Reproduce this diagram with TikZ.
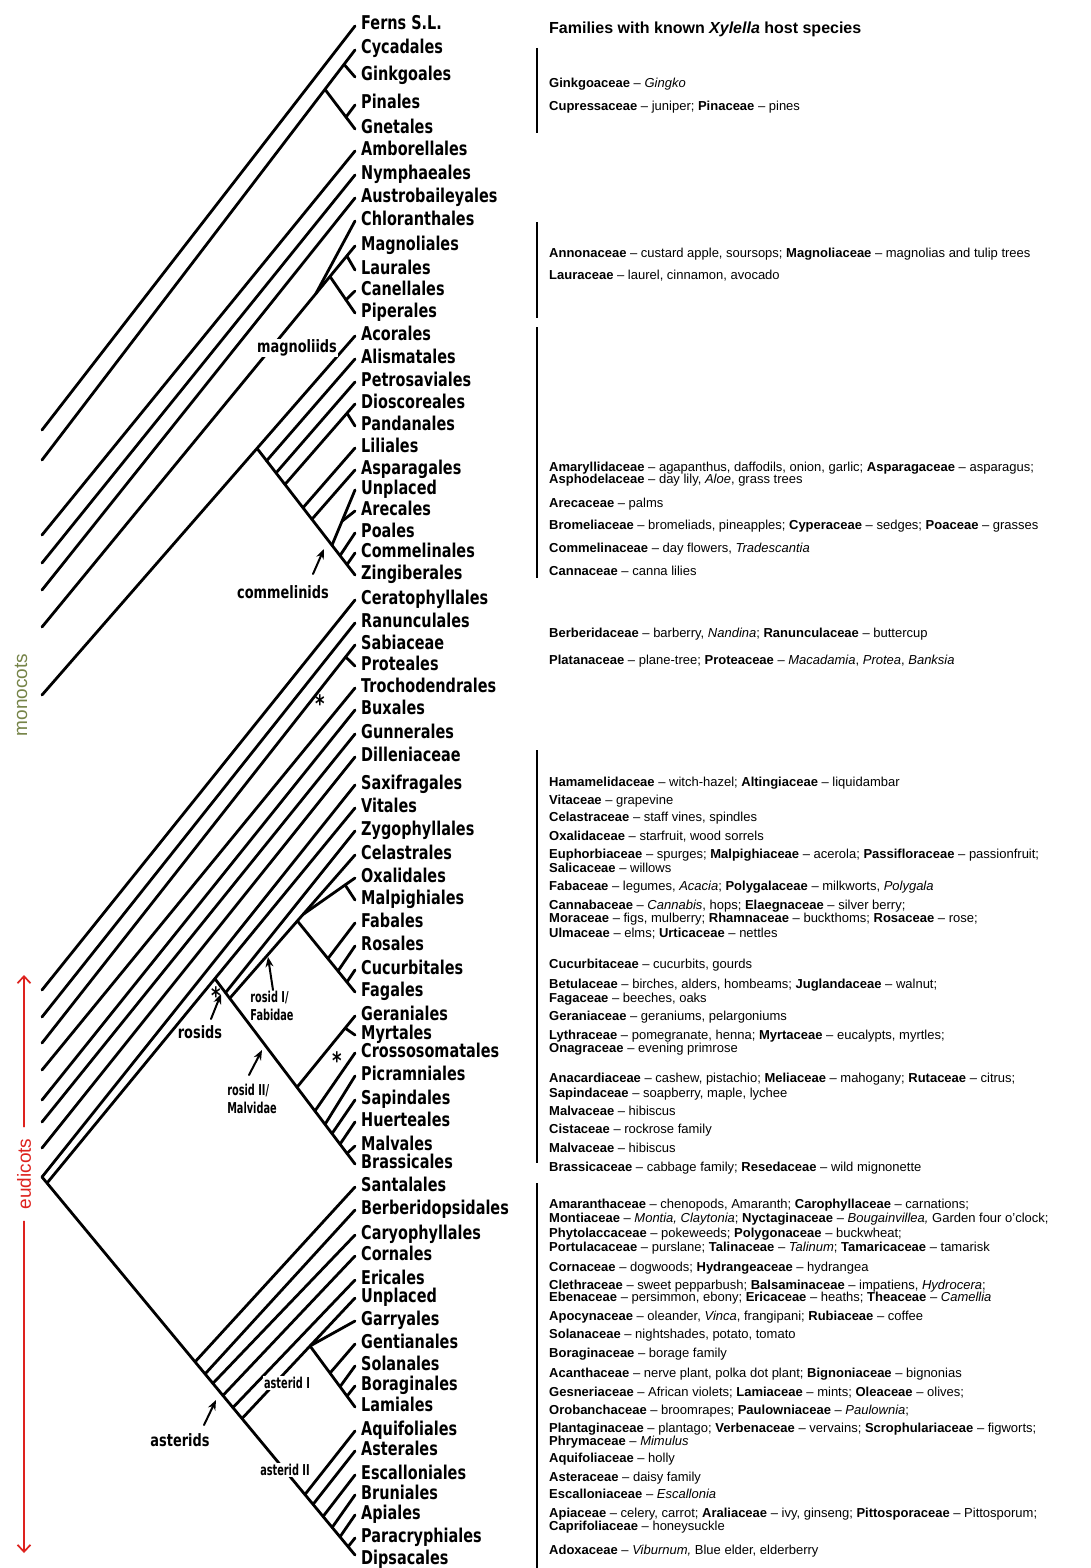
\documentclass[tikz,border=0pt]{standalone}
\usepackage{fontspec}
\setmainfont{Liberation Sans}
\newfontfamily\taxfont{DejaVu Sans}[FakeStretch=0.76]
\newfontfamily\subfont{DejaVu Sans}[FakeStretch=0.65]
\usetikzlibrary{calc,arrows.meta}
\newcommand{\famb}[1]{\textbf{#1}}
\definecolor{monogreen}{RGB}{118,132,72}
\definecolor{eured}{RGB}{222,34,30}

\begin{document}
\begin{tikzpicture}[x=1pt,y=-1pt,line cap=round,line join=round,
  branch/.style={line width=2.8pt},
  taxon/.style={anchor=base west,inner sep=0pt,font=\taxfont\bfseries\fontsize{19}{19}\selectfont},
  host/.style={anchor=base west,inner sep=0pt,font=\fontsize{13}{13}\selectfont},
  clade/.style={inner sep=1pt,font=\taxfont\bfseries\fontsize{17}{17}\selectfont},
  subclade/.style={inner sep=1pt,align=left,font=\subfont\bfseries\fontsize{15}{18}\selectfont},
  starmark/.style={inner sep=0pt,font=\taxfont\bfseries\fontsize{24}{24}\selectfont},
  pointer/.style={line width=2pt,-{Stealth[length=10pt,width=8pt]}},
  redarrow/.style={eured,line width=1.7pt,-{Straight Barb[length=7pt,width=13pt]}}]

\fill[white] (0,0) rectangle (1090,1568);
\useasboundingbox (0,0) rectangle (1090,1568);

% order labels and tips
\foreach \c/\n/\t in {23/ferns/Ferns S.L., 47/cycad/Cycadales, 74/ginkgo/Ginkgoales,
  102/pinal/Pinales, 126/gnet/Gnetales, 148/ambor/Amborellales, 172/nymph/Nymphaeales,
  195/austro/Austrobaileyales, 218/chlor/Chloranthales, 243/magnol/Magnoliales,
  267/laur/Laurales, 288/canel/Canellales, 310/piper/Piperales, 333/acor/Acorales,
  356/alism/Alismatales, 379/petros/Petrosaviales, 401/diosc/Dioscoreales,
  423/pandan/Pandanales, 445/lilia/Liliales, 467/aspar/Asparagales, 487/unpm/Unplaced,
  508/arec/Arecales, 530/poal/Poales, 550/commel/Commelinales, 572/zingib/Zingiberales,
  597/cerat/Ceratophyllales, 620/ranunc/Ranunculales, 642/sabia/Sabiaceae,
  663/proteal/Proteales, 685/trocho/Trochodendrales, 707/buxal/Buxales,
  731/gunner/Gunnerales, 754/dillen/Dilleniaceae, 782/saxif/Saxifragales,
  805/vital/Vitales, 828/zygo/Zygophyllales, 852/celast/Celastrales,
  875/oxalid/Oxalidales, 897/malpig/Malpighiales, 920/fabal/Fabales, 943/rosal/Rosales,
  967/cucurb/Cucurbitales, 989/fagal/Fagales, 1013/geran/Geraniales, 1032/myrt/Myrtales,
  1050/crosso/Crossosomatales, 1073/picram/Picramniales, 1097/sapind/Sapindales,
  1119/huert/Huerteales, 1143/malval/Malvales, 1161/brassic/Brassicales,
  1184/santal/Santalales, 1207/berber/Berberidopsidales, 1232/caryo/Caryophyllales,
  1253/cornal/Cornales, 1277/erical/Ericales, 1295/unpa/Unplaced, 1318/garry/Garryales,
  1341/gentian/Gentianales, 1363/solan/Solanales, 1383/boragin/Boraginales,
  1404/lamial/Lamiales, 1428/aquif/Aquifoliales, 1448/asteral/Asterales,
  1472/escall/Escalloniales, 1492/brunial/Bruniales, 1512/apial/Apiales,
  1535/paracr/Paracryphiales, 1557/dipsac/Dipsacales}{
  \node[taxon] (\n) at (361,\c+7) {\t};
  \coordinate (\n-t) at (355,\c+3);
}
\coordinate (dipsac-t) at (355,1555);

% gymnosperms
\coordinate (ferns-e) at (42,430);
\coordinate (gym-e) at (42,460);
\draw[branch] (ferns-t) -- (ferns-e);
\draw[branch] (cycad-t) -- (gym-e);
\coordinate (gk) at ($(cycad-t)!0.035!(gym-e)$);
\coordinate (pg) at ($(cycad-t)!0.096!(gym-e)$);
\coordinate (pf) at ($(pg)!0.7!(gnet-t)$);
\draw[branch] (gk) -- (ginkgo-t);
\draw[branch] (pg) -- (gnet-t);
\draw[branch] (pf) -- (pinal-t);

% basal angiosperms
\foreach \n/\y in {ambor/535,nymph/563,austro/590}{
  \coordinate (\n-e) at (42,\y);
  \draw[branch] (\n-t) -- (\n-e);
}

% magnoliids
\coordinate (mag-e) at (42,627);
\draw[branch] (magnol-t) -- (mag-e);
\coordinate (cj) at ($(magnol-t)!0.125!(mag-e)$);
\coordinate (ml) at ($(magnol-t)!0.026!(mag-e)$);
\coordinate (mp) at ($(magnol-t)!0.08!(mag-e)$);
\coordinate (cf) at ($(mp)!0.64!(piper-t)$);
\draw[branch] (chlor-t) -- (cj);
\draw[branch] (ml) -- (laur-t);
\draw[branch] (mp) -- (piper-t);
\draw[branch] (cf) -- (canel-t);

% monocots
\coordinate (mono-e) at (42,695);
\draw[branch] (acor-t) -- (mono-e);
\coordinate (mn) at ($(acor-t)!0.313!(mono-e)$);
\draw[branch] (mn) -- (zingib-t);
\foreach \n/\f in {alism/0.098,petros/0.194,diosc/0.285,lilia/0.469,aspar/0.560,
  unpm/0.765,poal/0.847,commel/0.918}{
  \coordinate (\n-b) at ($(mn)!\f!(zingib-t)$);
  \draw[branch] (\n-b) -- (\n-t);
}
\coordinate (pdf) at ($(diosc-b)!0.886!(diosc-t)$);
\coordinate (arf) at ($(unpm-b)!0.435!(unpm-t)$);
\draw[branch] (pdf) -- (pandan-t);
\draw[branch] (arf) -- (arec-t);

% eudicot grade
\foreach \n/\y in {cerat/990,ranunc/1017,sabia/1043,trocho/1070,buxal/1100,
  gunner/1122,dillen/1148}{
  \coordinate (\n-e) at (42,\y);
  \draw[branch] (\n-t) -- (\n-e);
}
\coordinate (prf) at ($(sabia-t)!0.03!(sabia-e)$);
\draw[branch] (prf) -- (proteal-t);
\coordinate (root) at (42,1177);
\draw[branch] (saxif-t) -- (root);
\draw[branch] (root) -- (dipsac-t);
\coordinate (vital-e) at ($(root)!0.016!(dipsac-t)$);
\draw[branch] (vital-t) -- (vital-e);

% rosids
\coordinate (R) at ($(vital-t)!0.455!(vital-e)$);
\draw[branch] (R) -- (brassic-t);
\coordinate (zygo-b) at ($(R)!0.076!(brassic-t)$);
\coordinate (fb) at ($(R)!0.106!(brassic-t)$);
\draw[branch] (zygo-t) -- (zygo-b);
\draw[branch] (celast-t) -- (fb);
\coordinate (F) at ($(celast-t)!0.46!(fb)$);
\coordinate (oj) at ($(celast-t)!0.415!(fb)$);
\draw[branch] (oxalid-t) -- (oj);
\coordinate (mf) at ($(oxalid-t)!0.19!(oj)$);
\draw[branch] (mf) -- (malpig-t);
\draw[branch] (F) -- (fagal-t);
\foreach \n/\f in {fabal/0.53,rosal/0.705,cucurb/0.86}{
  \coordinate (\n-b) at ($(F)!\f!(fagal-t)$);
  \draw[branch] (\n-b) -- (\n-t);
}
\coordinate (M) at ($(R)!0.586!(brassic-t)$);
\draw[branch] (M) -- (geran-t);
\coordinate (myf) at ($(M)!0.83!(geran-t)$);
\draw[branch] (myf) -- (myrt-t);
\foreach \n/\f in {crosso/0.714,picram/0.786,sapind/0.836,huert/0.893,malval/0.943}{
  \coordinate (\n-b) at ($(R)!\f!(brassic-t)$);
  \draw[branch] (\n-b) -- (\n-t);
}

% asterids
\foreach \n/\f in {santal/0.489,berber/0.521,caryo/0.546,cornal/0.578,erical/0.610,
  unpa/0.639,aquif/0.840,asteral/0.866,escall/0.898,brunial/0.927,apial/0.952,paracr/0.978}{
  \coordinate (\n-b) at ($(root)!\f!(dipsac-t)$);
  \draw[branch] (\n-b) -- (\n-t);
}
\coordinate (a1) at ($(unpa-b)!0.602!(unpa-t)$);
\draw[branch] (a1) -- (garry-t);
\draw[branch] (a1) -- (lamial-t);
\foreach \n/\f in {gentian/0.444,solan/0.667,boragin/0.822}{
  \coordinate (\n-b) at ($(a1)!\f!(lamial-t)$);
  \draw[branch] (\n-b) -- (\n-t);
}

% clade names
\node[clade,fill=white] (magnoliids) at (297,348) {magnoliids};
\node[clade] (commelinids) at (283,592) {commelinids};
\node[clade] (rosids) at (200,1032) {rosids};
\node[clade] (asterids) at (180,1440) {asterids};
\node[subclade] (fabidae) at (272,1006) {rosid I/\\Fabidae};
\node[subclade] (malvidae) at (252,1099) {rosid II/\\Malvidae};
\node[subclade,fill=white] (asteridI) at (287,1383) {asterid I};
\node[subclade,fill=white] (asteridII) at (285,1470) {asterid II};
\node[starmark] (star1) at (320,704) {*};
\node[starmark] (star2) at (216,996) {*};
\node[starmark] (star3) at (337,1061) {*};

\coordinate (cm-a) at (313,574); \coordinate (cm-b) at (324,549);
\coordinate (ro-a) at (211,1019); \coordinate (ro-b) at (221,994);
\coordinate (fa-a) at (273,990); \coordinate (fa-b) at (268,957);
\coordinate (mv-a) at (249,1075); \coordinate (mv-b) at (262,1050);
\coordinate (as-a) at (204,1425); \coordinate (as-b) at (216,1400);
\draw[pointer] (cm-a) -- (cm-b);
\draw[pointer] (ro-a) -- (ro-b);
\draw[pointer] (fa-a) -- (fa-b);
\draw[pointer] (mv-a) -- (mv-b);
\draw[pointer] (as-a) -- (as-b);

% groups at the left
\node[rotate=90,text=monogreen,font=\fontsize{19}{19}\selectfont] (monocots) at (21,695) {monocots};
\node[rotate=90,text=eured,inner sep=0pt,outer sep=12pt,font=\fontsize{19}{19}\selectfont] (eudicots) at (24,1174) {eudicots};
\coordinate (eu-top) at (24,975);
\coordinate (eu-bot) at (24,1553);
\draw[redarrow] (eudicots.east) -- (eu-top);
\draw[redarrow] (eudicots.west) -- (eu-bot);

% host families
\node[anchor=base west,inner sep=0pt,font=\bfseries\fontsize{16}{16}\selectfont] (title) at (549,34)
  {Families with known \textit{Xylella} host species};
\foreach \y/\t in {
  83/{\famb{Ginkgoaceae} -- \textit{Gingko}},
  106/{\famb{Cupressaceae} -- juniper; \famb{Pinaceae} -- pines},
  253/{\famb{Annonaceae} -- custard apple, soursops; \famb{Magnoliaceae} -- magnolias and tulip trees},
  275/{\famb{Lauraceae} -- laurel, cinnamon, avocado},
  467/{\famb{Amaryllidaceae} -- agapanthus, daffodils, onion, garlic; \famb{Asparagaceae} -- asparagus;},
  479/{\famb{Asphodelaceae} -- day lily, \textit{Aloe}, grass trees},
  503/{\famb{Arecaceae} -- palms},
  525/{\famb{Bromeliaceae} -- bromeliads, pineapples; \famb{Cyperaceae} -- sedges; \famb{Poaceae} -- grasses},
  548/{\famb{Commelinaceae} -- day flowers, \textit{Tradescantia}},
  571/{\famb{Cannaceae} -- canna lilies},
  633/{\famb{Berberidaceae} -- barberry, \textit{Nandina}; \famb{Ranunculaceae} -- buttercup},
  660/{\famb{Platanaceae} -- plane-tree; \famb{Proteaceae} -- \textit{Macadamia}, \textit{Protea}, \textit{Banksia}},
  782/{\famb{Hamamelidaceae} -- witch-hazel; \famb{Altingiaceae} -- liquidambar},
  800/{\famb{Vitaceae} -- grapevine},
  817/{\famb{Celastraceae} -- staff vines, spindles},
  836/{\famb{Oxalidaceae} -- starfruit, wood sorrels},
  854/{\famb{Euphorbiaceae} -- spurges; \famb{Malpighiaceae} -- acerola; \famb{Passifloraceae} -- passionfruit;},
  868/{\famb{Salicaceae} -- willows},
  886/{\famb{Fabaceae} -- legumes, \textit{Acacia}; \famb{Polygalaceae} -- milkworts, \textit{Polygala}},
  905/{\famb{Cannabaceae} -- \textit{Cannabis}, hops; \famb{Elaegnaceae} -- silver berry;},
  918/{\famb{Moraceae} -- figs, mulberry; \famb{Rhamnaceae} -- buckthoms; \famb{Rosaceae} -- rose;},
  933/{\famb{Ulmaceae} -- elms; \famb{Urticaceae} -- nettles},
  964/{\famb{Cucurbitaceae} -- cucurbits, gourds},
  984/{\famb{Betulaceae} -- birches, alders, hombeams; \famb{Juglandaceae} -- walnut;},
  998/{\famb{Fagaceae} -- beeches, oaks},
  1016/{\famb{Geraniaceae} -- geraniums, pelargoniums},
  1035/{\famb{Lythraceae} -- pomegranate, henna; \famb{Myrtaceae} -- eucalypts, myrtles;},
  1048/{\famb{Onagraceae} -- evening primrose},
  1078/{\famb{Anacardiaceae} -- cashew, pistachio; \famb{Meliaceae} -- mahogany; \famb{Rutaceae} -- citrus;},
  1093/{\famb{Sapindaceae} -- soapberry, maple, lychee},
  1111/{\famb{Malvaceae} -- hibiscus},
  1129/{\famb{Cistaceae} -- rockrose family},
  1148/{\famb{Malvaceae} -- hibiscus},
  1167/{\famb{Brassicaceae} -- cabbage family; \famb{Resedaceae} -- wild mignonette},
  1204/{\famb{Amaranthaceae} -- chenopods, Amaranth; \famb{Carophyllaceae} -- carnations;},
  1218/{\famb{Montiaceae} -- \textit{Montia, Claytonia}; \famb{Nyctaginaceae} -- \textit{Bougainvillea,} Garden four o'clock;},
  1233/{\famb{Phytolaccaceae} -- pokeweeds; \famb{Polygonaceae} -- buckwheat;},
  1247/{\famb{Portulacaceae} -- purslane; \famb{Talinaceae} -- \textit{Talinum}; \famb{Tamaricaceae} -- tamarisk},
  1267/{\famb{Cornaceae} -- dogwoods; \famb{Hydrangeaceae} -- hydrangea},
  1285/{\famb{Clethraceae} -- sweet pepparbush; \famb{Balsaminaceae} -- impatiens, \textit{Hydrocera};},
  1297/{\famb{Ebenaceae} -- persimmon, ebony; \famb{Ericaceae} -- heaths; \famb{Theaceae} -- \textit{Camellia}},
  1316/{\famb{Apocynaceae} -- oleander, \textit{Vinca}, frangipani; \famb{Rubiaceae} -- coffee},
  1334/{\famb{Solanaceae} -- nightshades, potato, tomato},
  1353/{\famb{Boraginaceae} -- borage family},
  1373/{\famb{Acanthaceae} -- nerve plant, polka dot plant; \famb{Bignoniaceae} -- bignonias},
  1392/{\famb{Gesneriaceae} -- African violets; \famb{Lamiaceae} -- mints; \famb{Oleaceae} -- olives;},
  1410/{\famb{Orobanchaceae} -- broomrapes; \famb{Paulowniaceae} -- \textit{Paulownia};},
  1428/{\famb{Plantaginaceae} -- plantago; \famb{Verbenaceae} -- vervains; \famb{Scrophulariaceae} -- figworts;},
  1441/{\famb{Phrymaceae} -- \textit{Mimulus}},
  1458/{\famb{Aquifoliaceae} -- holly},
  1477/{\famb{Asteraceae} -- daisy family},
  1494/{\famb{Escalloniaceae} -- \textit{Escallonia}},
  1513/{\famb{Apiaceae} -- celery, carrot; \famb{Araliaceae} -- ivy, ginseng; \famb{Pittosporaceae} -- Pittosporum;},
  1526/{\famb{Caprifoliaceae} -- honeysuckle},
  1550/{\famb{Adoxaceae} -- \textit{Viburnum,} Blue elder, elderberry}}{
  \node[host] (host-\y) at (549,\y+4.5) {\t};
}

% group bars
\draw[line width=2.6pt,line cap=butt] (537,48) -- (537,133);
\draw[line width=2.6pt,line cap=butt] (537,222) -- (537,318);
\draw[line width=2.6pt,line cap=butt] (537,327) -- (537,578);
\draw[line width=2.6pt,line cap=butt] (537,750) -- (537,1163);
\draw[line width=2.6pt,line cap=butt] (537,1183) -- (537,1568);
\end{tikzpicture}
\end{document}
